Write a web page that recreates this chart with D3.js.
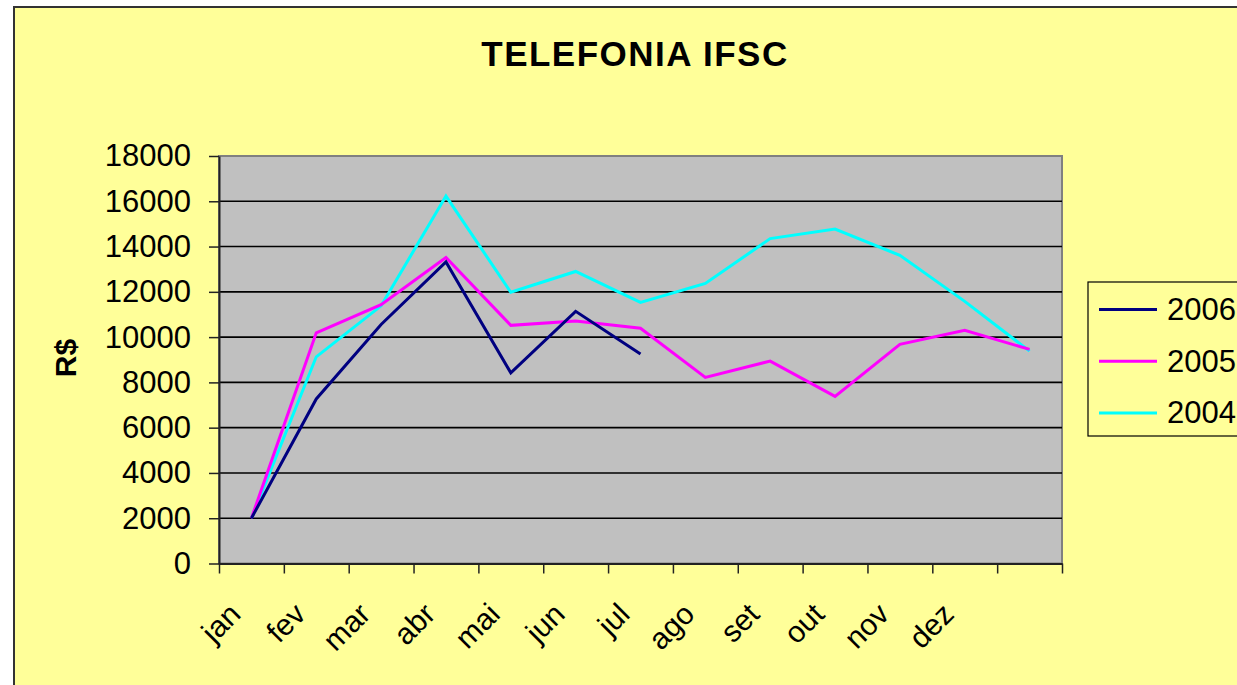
<!DOCTYPE html>
<html>
<head>
<meta charset="utf-8">
<script src="https://cdn.jsdelivr.net/npm/d3@7"></script>
<style>
  body { margin: 0; background: #fff; }
  svg { display: block; font-family: "Liberation Sans", Arial, sans-serif; }
</style>
</head>
<body>
<div id="chart"></div>
<script>
// categories (13th slot has no label, like the spreadsheet)
const months = ['jan', 'fev', 'mar', 'abr', 'mai', 'jun', 'jul', 'ago', 'set', 'out', 'nov', 'dez', '']
const yTicks = [0, 2000, 4000, 6000, 8000, 10000, 12000, 14000, 16000, 18000]

const values2006 = [2000, 7270, 10560, 13320, 8420, 11140, 9250]
const values2005 = [2000, 10190, 11430, 13520, 10520, 10710, 10390, 8220, 8940, 7380, 9680, 10300, 9460]
const values2004 = [2000, 9130, 11380, 16230, 11980, 12900, 11530, 12370, 14350, 14770, 13610, 11580, 9380]

const series = [
  {name: '2006', values: values2006, color: '#000080'},
  {name: '2005', values: values2005, color: '#FF00FF'},
  {name: '2004', values: values2004, color: '#00FFFF'}
]

const width = 1237, height = 685
const plot = {left: 219, right: 1062, top: 156, bottom: 563.5}

const svg = d3.select('#chart').append('svg')
  .attr('width', width)
  .attr('height', height)

// chart area
svg.append('rect')
  .attr('x', 14).attr('y', 7)
  .attr('width', width + 20).attr('height', height + 20)
  .attr('fill', '#FFFF99')
  .attr('stroke', '#333')
  .attr('stroke-width', 2)

svg.append('text')
  .attr('x', 635).attr('y', 66)
  .attr('text-anchor', 'middle')
  .attr('font-size', 35)
  .attr('font-weight', 'bold')
  .attr('letter-spacing', 1.5)
  .text('TELEFONIA IFSC')

// scales: ticks sit between categories, points at the middle
let xEdge = d3.scaleLinear()
  .domain([0, months.length])
  .range([plot.left, plot.right])
let xMid = i => xEdge(i + 0.5)
let y = d3.scaleLinear()
  .domain([0, 18000])
  .range([plot.bottom, plot.top])

svg.append('rect')
  .attr('x', plot.left).attr('y', plot.top)
  .attr('width', plot.right - plot.left)
  .attr('height', plot.bottom - plot.top)
  .attr('fill', '#C0C0C0')
  .attr('stroke', '#808080')
  .attr('stroke-width', 2)

// gridlines
svg.append('g').selectAll('line')
  .data(yTicks.filter(d => d > 0 && d < 18000))
  .enter().append('line')
  .attr('x1', plot.left).attr('x2', plot.right)
  .attr('y1', d => y(d)).attr('y2', d => y(d))
  .attr('stroke', '#000')
  .attr('stroke-width', 1.6)

// y axis
let yAxis = svg.append('g')
  .attr('transform', 'translate(' + plot.left + ',0)')
  .call(d3.axisLeft(y).tickValues(yTicks).tickFormat(d3.format('d'))
    .tickSize(10).tickPadding(18).tickSizeOuter(0))
yAxis.select('.domain').attr('stroke', '#222').attr('stroke-width', 2)
yAxis.selectAll('.tick line').attr('stroke', '#222').attr('stroke-width', 1.5)
yAxis.selectAll('.tick text')
  .attr('font-size', 31)
  .attr('font-family', '"Liberation Sans", Arial, sans-serif')
  .attr('fill', '#000')

// x axis
let xAxis = svg.append('g')
  .attr('transform', 'translate(0,' + plot.bottom + ')')
  .call(d3.axisBottom(xEdge).tickValues(d3.range(months.length + 1)).tickSize(10).tickFormat('').tickSizeOuter(0))
xAxis.select('.domain').attr('stroke', '#222').attr('stroke-width', 2)
xAxis.selectAll('.tick line').attr('stroke', '#222').attr('stroke-width', 1.5)

svg.append('g').selectAll('text')
  .data(months)
  .enter().append('text')
  .attr('text-anchor', 'end')
  .attr('font-size', 30)
  .attr('transform', (d, i) => 'translate(' + (xMid(i) - 9) + ',616) rotate(-45)')
  .text(d => d)

svg.append('text')
  .attr('transform', 'translate(76,358) rotate(-90)')
  .attr('text-anchor', 'middle')
  .attr('font-size', 30)
  .attr('font-weight', 'bold')
  .text('R$')

// lines
let line = d3.line()
  .x((d, i) => xMid(i))
  .y(d => y(d))

svg.append('g').selectAll('path')
  .data(series.slice().reverse())
  .enter().append('path')
  .attr('d', d => line(d.values))
  .attr('fill', 'none')
  .attr('stroke', d => d.color)
  .attr('stroke-width', 3)
  .attr('stroke-linejoin', 'miter')

// legend
let legend = svg.append('g').attr('transform', 'translate(1088,282)')
legend.append('rect')
  .attr('width', 200).attr('height', 154)
  .attr('fill', '#FFFF99')
  .attr('stroke', '#000')
  .attr('stroke-width', 1.2)

let entry = legend.selectAll('.entry')
  .data(series)
  .enter().append('g')
  .attr('class', 'entry')
  .attr('transform', (d, i) => 'translate(0,' + (27.5 + i * 51.7) + ')')
entry.append('line')
  .attr('x1', 11).attr('x2', 69)
  .attr('stroke', d => d.color)
  .attr('stroke-width', 3)
entry.append('text')
  .attr('x', 79).attr('y', 10.5)
  .attr('font-size', 31)
  .text(d => d.name)
</script>
</body>
</html>
